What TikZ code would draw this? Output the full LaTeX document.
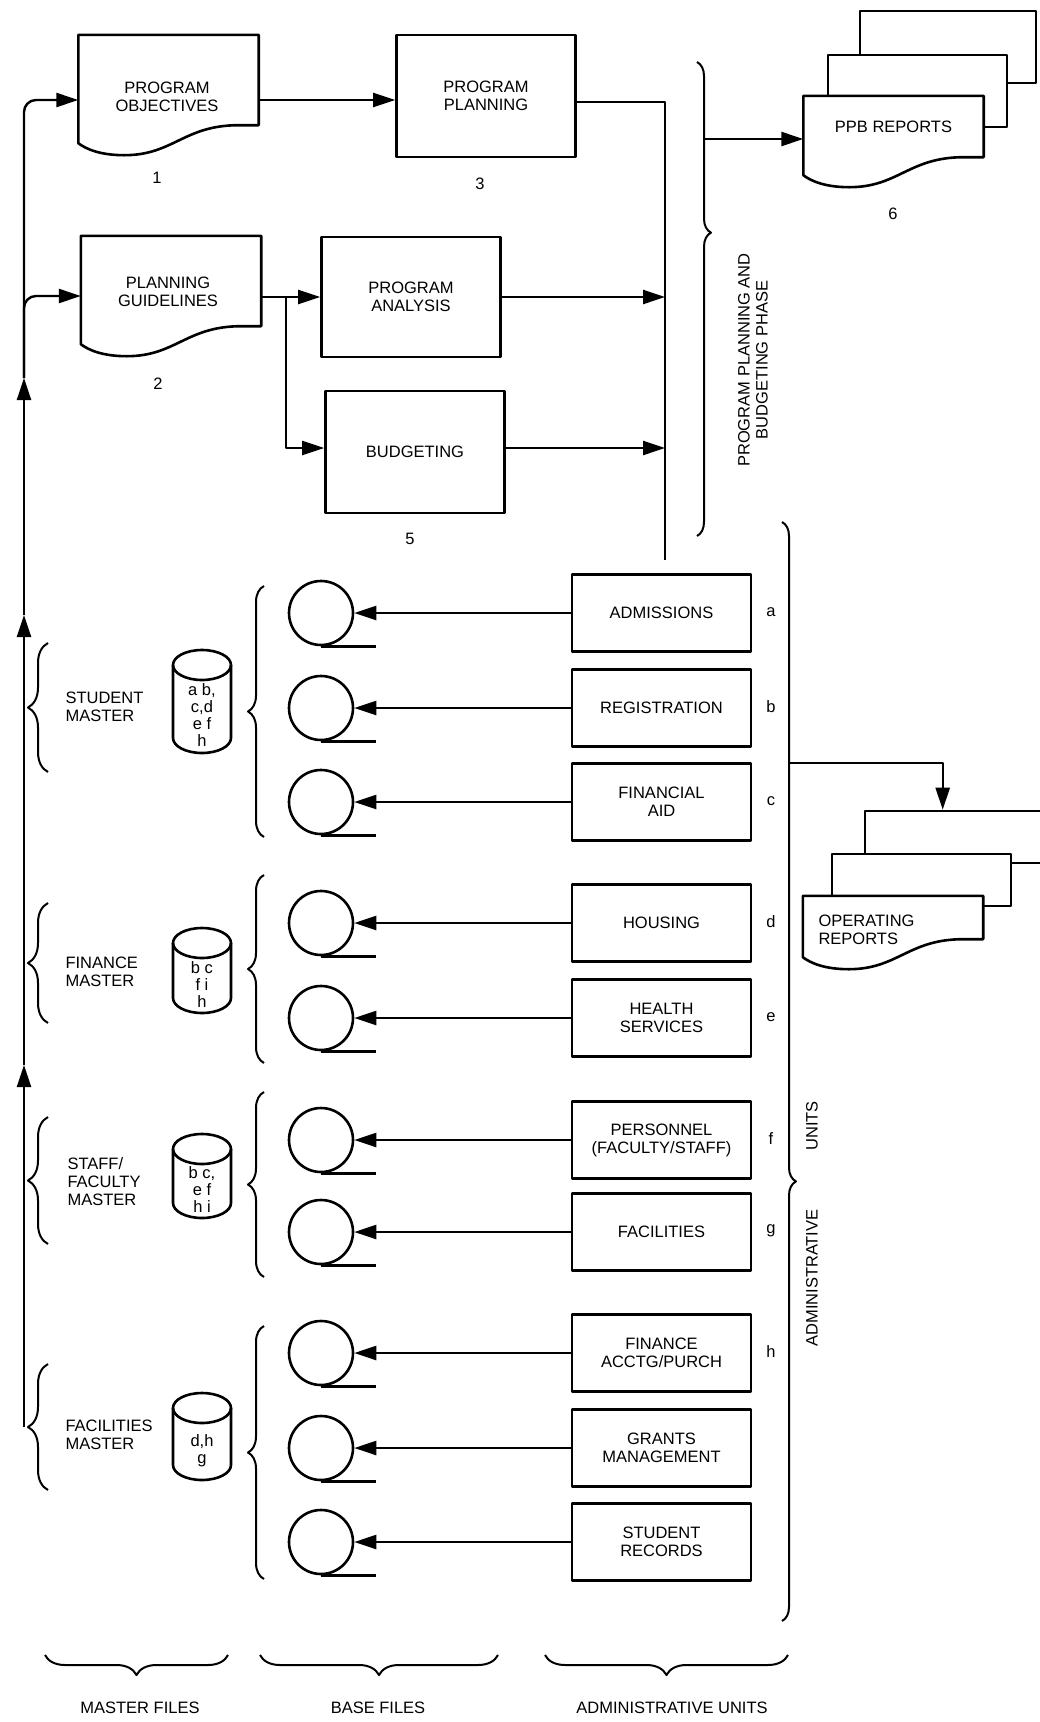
\documentclass[tikz,border=0pt]{standalone}
\usepackage{fontspec}
\setmainfont{Liberation Sans}
\usetikzlibrary{arrows.meta, calc, decorations.pathreplacing}

\tikzset{
  flow/.style={line width=2.4pt},
  arr/.style={flow, -{Triangle[length=22pt, width=14pt]}},
  procbox/.style={draw, line width=2.6pt, minimum width=179pt, align=center},
  unitbox/.style={draw, line width=2.6pt, minimum width=179pt, minimum height=77pt, align=center},
  docbox/.style={inner sep=0pt, minimum width=180pt},
  docline/.style={draw, line width=2.6pt, fill=white},
  sheet/.style={draw, line width=2.6pt, fill=white, inner sep=0pt},
  reel/.style={draw, circle, line width=2.6pt, minimum size=64pt, inner sep=0pt},
  drum/.style={line width=2.6pt},
  curly/.style={decorate, decoration={brace, amplitude=#1}, line width=2pt},
}

\begin{document}
\begin{tikzpicture}[x=1pt, y=-1pt, line join=round,
    every node/.style={font=\fontsize{16.5}{18}\selectfont}]
    \useasboundingbox (0,0) rectangle (1040,1722);
    \fill[white] (0,0) rectangle (1040,1722);

    % --- Planning phase ---
    \node[docbox, minimum height=90pt] (obj) at (168.5,80) {};
    \node[docbox, minimum height=90pt] (guide) at (171,281) {};
    \node[procbox, minimum height=122pt] (plan) at (486,96) {PROGRAM\\PLANNING};
    \node[procbox, minimum height=120pt] (anal) at (411,297) {PROGRAM\\ANALYSIS};
    \node[procbox, minimum height=122pt] (budg) at (415,452) {BUDGETING};

    % --- Report stacks ---
    \node[sheet, minimum width=176pt, minimum height=72pt] (ppbback) at (948,47) {};
    \node[sheet, minimum width=179pt, minimum height=72pt] (ppbmid) at (917.5,91) {};
    \node[docbox, minimum height=61pt] (ppbf) at (893.5,126.5) {};
    \node[sheet, minimum width=215pt, minimum height=52pt] (orback) at (972.5,837) {};
    \node[sheet, minimum width=179pt, minimum height=52pt] (ormid) at (921.5,880) {};
    \node[docbox, minimum height=43pt] (orf) at (893,917.5) {};

    % document outlines (wavy bottom)
    \foreach \d in {obj,guide,ppbf,orf}
        \draw[docline] (\d.north west) -- (\d.north east) -- (\d.south east)
            -- ([xshift=-20pt]\d.south east)
            .. controls ([xshift=-75pt]\d.south east) and ([shift={(95pt,-30pt)}]\d.south west)
            .. ([shift={(46pt,-30pt)}]\d.south west)
            .. controls ([shift={(22pt,-30pt)}]\d.south west) and ([shift={(8pt,-24pt)}]\d.south west)
            .. ([yshift=-18pt]\d.south west) -- cycle;

    \node[align=center] (objtxt) at (167,97) {PROGRAM\\OBJECTIVES};
    \node[align=center] (guidetxt) at (168,292) {PLANNING\\GUIDELINES};
    \node (ppbtxt) at (ppbf) {PPB REPORTS};
    \node[anchor=west, align=left] (ortxt) at (815,930) {OPERATING\\REPORTS};

    % step numbers
    \node (n1) at (157,178) {1};
    \node (n2) at (158,384) {2};
    \node (n3) at (480,184) {3};
    \node (n5) at (410,539) {5};
    \node (n6) at (893,214) {6};

    % --- Main feed line ---
    \coordinate (mbot) at (24,1427);
    \coordinate (mup1) at (24,1065);
    \coordinate (mup2) at (24,615);
    \coordinate (mup3) at (24,378);
    \draw[arr] (mbot) -- (mup1);
    \draw[arr] (mup1) -- (mup2);
    \draw[arr] (mup2) -- (mup3);
    \draw[arr, rounded corners=12pt] (mup3) |- ([yshift=-20pt]obj.west);
    \draw[arr, rounded corners=12pt] (mup3) |- ([yshift=-15pt]guide.west);

    % --- Planning flow ---
    \draw[arr] ([yshift=-20pt]obj.east) coordinate (objout) -- (objout -| plan.west);
    \coordinate (ppbot) at (665,560);
    \draw[flow] ([yshift=-6pt]plan.east) -| (ppbot);
    \draw[arr] (guide.east |- anal.west) -- (anal.west);
    \coordinate (gsplit) at ($(guide.east |- anal.west)+(25,0)$);
    \draw[arr] (gsplit) |- ([yshift=4pt]budg.west);
    \draw[arr] (anal.east) -- (anal.east -| ppbot);
    \draw[arr] ([yshift=4pt]budg.east) -- ([yshift=4pt]budg.east -| ppbot);

    % phase brace and output
    \draw[curly=14pt, decoration={aspect=0.36}] (697,62) -- (697,536);
    \node[rotate=90, align=center] (phase) at (753,360) {PROGRAM PLANNING AND\\BUDGETING PHASE};
    \coordinate (ppout) at (704,139);
    \draw[arr] (ppout) -- (ppout -| ppbf.west);

    % --- Administrative units, tapes and base files ---
    \foreach \y/\n/\t/\l in {613/adm/ADMISSIONS/a, 708/reg/REGISTRATION/b,
        802/aid/{FINANCIAL\\AID}/c, 923/hsg/HOUSING/d, 1018/hlth/{HEALTH\\SERVICES}/e,
        1140/pers/{PERSONNEL\\(FACULTY/STAFF)}/f, 1232/facl/FACILITIES/g,
        1353/acct/{FINANCE\\ACCTG/PURCH}/h, 1448/grnt/{GRANTS\\MANAGEMENT}/{},
        1542/recs/{STUDENT\\RECORDS}/{}} {
        \node[unitbox] (\n) at (661.5,\y) {\t};
        \node[reel] (r\n) at (321,\y) {};
        \draw[arr] (\n.west) -- (r\n.east);
        \draw[flow] (r\n.south) -- ++(55,0);
        \node (l\n) at (771,\y-1) {\l};
    }

    % base file braces
    \draw[curly=16pt] (264,837) -- (264,586);
    \draw[curly=16pt] (264,1063) -- (264,875);
    \draw[curly=16pt] (264,1277) -- (264,1092);
    \draw[curly=16pt] (264,1579) -- (264,1326);

    % admin brace and operating reports
    \draw[curly=14pt, decoration={aspect=0.6}] (782,522) -- (782,1621);
    \node[rotate=90] (admside) at (812,1278) {ADMINISTRATIVE};
    \node[rotate=90] (unitside) at (812,1126) {UNITS};
    \coordinate (admout) at (789,763);
    \draw[arr] (admout) -| ([xshift=79pt]orback.north west);

    % --- Master files ---
    \foreach \n/\ct/\cb/\txt in {stum/650/753/{a b,\\c,d\\e f\\h}, finm/928/1013/{b c\\f i\\h},
        stfm/1134/1218/{b c,\\e f\\h i}, facm/1393/1480/{d,h\\g}} {
        \draw[drum] (173,\ct+15) -- (173,\cb-15)
            arc[start angle=180, end angle=0, x radius=29, y radius=15] -- (231,\ct+15);
        \draw[drum] (202,\ct+15) ellipse [x radius=29, y radius=15];
        \node[align=center, font=\fontsize{16.5}{17}\selectfont] (\n) at (202,{(\ct+\cb)/2+14}) {\txt};
    }
    \draw[curly=20pt] (48,772) -- (48,643);
    \draw[curly=20pt] (48,1023) -- (48,903);
    \draw[curly=20pt] (48,1244) -- (48,1117);
    \draw[curly=20pt] (48,1490) -- (48,1364);
    \node[anchor=west, align=left] (stulbl) at (62,707) {STUDENT\\MASTER};
    \node[anchor=west, align=left] (finlbl) at (62,972) {FINANCE\\MASTER};
    \node[anchor=west, align=left] (stflbl) at (64,1182) {STAFF/\\FACULTY\\MASTER};
    \node[anchor=west, align=left] (faclbl) at (62,1435) {FACILITIES\\MASTER};

    % --- Column braces ---
    \draw[curly=20pt] (228,1655) -- (45,1655);
    \draw[curly=20pt] (498,1655) -- (260,1655);
    \draw[curly=20pt] (788,1655) -- (545,1655);
    \node (mfl) at (140,1708) {MASTER FILES};
    \node (bfl) at (378,1708) {BASE FILES};
    \node (aul) at (672,1708) {ADMINISTRATIVE UNITS};
\end{tikzpicture}
\end{document}
